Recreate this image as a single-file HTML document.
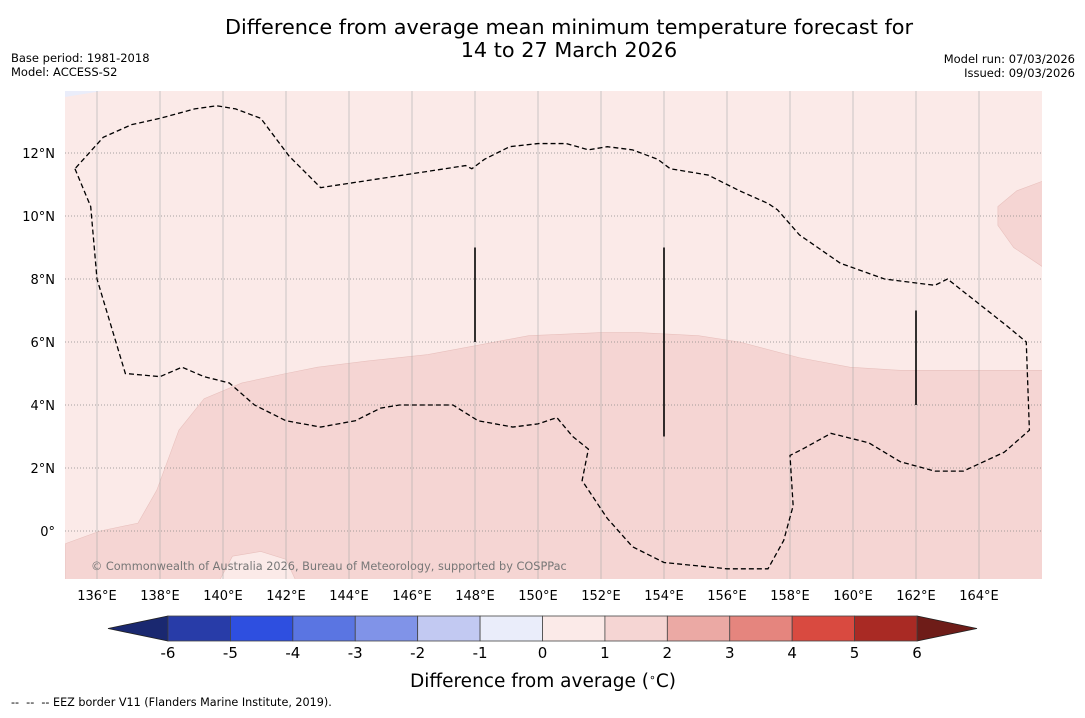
<!DOCTYPE html>
<html><head><meta charset="utf-8"><style>
body{margin:0;background:#fff;}
svg text{font-family:"DejaVu Sans","Liberation Sans",sans-serif;white-space:pre;}
</style></head><body>
<svg width="1085" height="713" viewBox="0 0 1085 713" xmlns="http://www.w3.org/2000/svg">
<text x="569" y="34" font-size="20.8" text-anchor="middle">Difference from average mean minimum temperature forecast for</text>
<text x="569" y="57" font-size="20.8" text-anchor="middle">14 to 27 March 2026</text>
<text x="11" y="62" font-size="11.5">Base period: 1981-2018</text>
<text x="11" y="76" font-size="11.5">Model: ACCESS-S2</text>
<text x="1075" y="63" font-size="11.5" text-anchor="end">Model run: 07/03/2026</text>
<text x="1075" y="77" font-size="11.5" text-anchor="end">Issued: 09/03/2026</text>
<defs><clipPath id="mc"><rect x="65" y="91" width="977" height="488"/></clipPath></defs>
<g id="map" clip-path="url(#mc)"></g>
<g id="axes"></g>
<g id="cbar"></g>
<text x="543" y="687" font-size="18.5" text-anchor="middle">Difference from average (<tspan baseline-shift="super" font-size="11">∘</tspan>C)</text>
<text x="11" y="706" font-size="11.2" xml:space="preserve">--  --  -- EEZ border V11 (Flanders Marine Institute, 2019).</text>
</svg>
<script>
const lonTicks=[136,138,140,142,144,146,148,150,152,154,156,158,160,162,164];
const latTicks=[12,10,8,6,4,2,0];
const latLabels=["12°N","10°N","8°N","6°N","4°N","2°N","0°"];
const cbLevels=[-6,-5,-4,-3,-2,-1,0,1,2,3,4,5,6];
const cbColors=["#283ca8","#2e4fe0","#5a75e2","#8093e8","#c2c9f2","#eaedfa","#fbeae8","#f5d5d3","#eba9a4","#e5857e","#d94a40","#a92a24"];
// EEZ boundary (lon, lat)
const eezLon=[135.3,135.8,136.0,136.9,138.0,138.7,139.4,140.2,141.0,142.0,143.1,144.2,145.0,145.6,147.3,148.1,149.2,150.0,150.6,151.1,151.6,151.4,152.2,153.0,154.0,156.0,157.3,157.8,158.1,158.0,158.4,159.3,160.5,161.5,162.6,163.5,164.8,165.6,165.5,164.9,163.0,162.6,161.0,159.6,158.3,157.6,157.3,156.4,155.4,154.2,153.8,153.0,152.2,151.6,150.9,150.0,149.1,148.3,147.9,147.7,143.1,142.1,141.2,140.4,139.8,139.1,138.0,137.1,136.2,135.3];
const eezLat=[11.5,10.3,8.0,5.0,4.9,5.2,4.9,4.7,4.0,3.5,3.3,3.5,3.9,4.0,4.0,3.5,3.3,3.4,3.6,3.0,2.6,1.6,0.4,-0.5,-1.0,-1.2,-1.2,-0.3,0.8,2.4,2.6,3.1,2.8,2.2,1.9,1.9,2.5,3.2,6.0,6.5,8.0,7.8,8.0,8.5,9.4,10.2,10.4,10.8,11.3,11.5,11.8,12.1,12.2,12.1,12.3,12.3,12.2,11.8,11.5,11.6,10.9,11.9,13.1,13.4,13.5,13.4,13.1,12.9,12.5,11.5];
// boundary between +0..1 and +1..2 regions
const bLon=[135.0,136.1,137.3,137.9,138.6,139.4,140.6,142.0,143.0,144.6,146.5,148.1,149.7,152.0,153.2,155.1,156.4,158.3,159.9,161.5,166.0];
const bLat=[-0.4,0.0,0.25,1.3,3.2,4.2,4.7,5.0,5.2,5.4,5.6,5.9,6.2,6.3,6.3,6.2,6.0,5.5,5.2,5.1,5.1];
const pocketLon=[139.9,140.3,141.2,142.0,142.3];
const pocketLat=[-1.55,-0.8,-0.65,-0.9,-1.55];
const nePatchLon=[166.0,165.2,164.6,164.6,165.1,166.0];
const nePatchLat=[11.1,10.8,10.3,9.7,9.0,8.4];
const vLines=[[148,6,9],[154,3,9],[162,4,7]];
const sx=l=>65.5+(l-135)*31.5, sy=l=>531-l*31.5;
const NS="http://www.w3.org/2000/svg";
function mk(t,a,p){const e=document.createElementNS(NS,t);for(const k in a)e.setAttribute(k,a[k]);p.appendChild(e);return e;}
const map=document.getElementById('map'),axes=document.getElementById('axes'),cb=document.getElementById('cbar');
let bg=mk('rect',{x:65,y:91,width:977,height:488,fill:'#fbeae8'},map);


let pts=bLon.map((l,i)=>sx(l)+','+sy(bLat[i])).join(' ')+' '+sx(167)+','+sy(5.1)+' '+sx(167)+','+sy(-2)+' '+sx(135)+','+sy(-2);
let r1=mk('polygon',{points:pts,fill:'#f5d5d3',stroke:'#e8c0bd','stroke-width':0.6},map);


let pk=mk('polygon',{points:pocketLon.map((l,i)=>sx(l)+','+sy(pocketLat[i])).join(' '),fill:'#fbeae8',stroke:'#e8c0bd','stroke-width':0.6},map);


let ne=mk('polygon',{points:nePatchLon.map((l,i)=>sx(l)+','+sy(nePatchLat[i])).join(' ')+' '+sx(167)+','+sy(8.4)+' '+sx(167)+','+sy(11.1),fill:'#f5d5d3',stroke:'#e8c0bd','stroke-width':0.6},map);


let bl=mk('polygon',{points:'65,91 65,97 102,91',fill:'#eaedfa'},map);


lonTicks.forEach(l=>{let g=mk('line',{x1:sx(l),x2:sx(l),y1:91,y2:579,stroke:'#aaa','stroke-width':0.6},map);


let t=mk('text',{x:sx(l),y:600,'font-size':13,'text-anchor':'middle'},axes);t.textContent=l+'°E';

});
latTicks.forEach((l,i)=>{let g=mk('line',{x1:65,x2:1042,y1:sy(l),y2:sy(l),stroke:'#888','stroke-width':0.7,'stroke-dasharray':'1,2'},map);


let t=mk('text',{x:55,y:sy(l)+5,'font-size':13,'text-anchor':'end'},axes);t.textContent=latLabels[i];

});
let ez=mk('polyline',{points:eezLon.map((l,i)=>sx(l)+','+sy(eezLat[i])).join(' '),fill:'none',stroke:'#000','stroke-width':1.3,'stroke-dasharray':'5,3'},map);


vLines.forEach(v=>{let e=mk('line',{x1:sx(v[0]),x2:sx(v[0]),y1:sy(v[2]),y2:sy(v[1]),stroke:'#000','stroke-width':1.6},map);

});
let cp=mk('text',{x:91,y:570,'font-size':11.3,fill:'#777'},map);cp.textContent='© Commonwealth of Australia 2026, Bureau of Meteorology, supported by COSPPac';


const cx=v=>168+(v+6)*(917-168)/12;
let lt=mk('polygon',{points:`${cx(-6)},616 ${cx(-6)},641 108,628.5`,fill:'#1a2870',stroke:'#222','stroke-width':0.8},cb);


let rt=mk('polygon',{points:`${cx(6)},616 ${cx(6)},641 977,628.5`,fill:'#6e1c18',stroke:'#222','stroke-width':0.8},cb);


cbColors.forEach((c,i)=>{let r=mk('rect',{x:cx(cbLevels[i]),y:616,width:cx(cbLevels[i+1])-cx(cbLevels[i]),height:25,fill:c,stroke:'#444','stroke-width':0.8},cb);

});
cbLevels.forEach(v=>{let t=mk('text',{x:cx(v),y:658,'font-size':15,'text-anchor':'middle'},cb);t.textContent=v;

});
</script>
</body></html>
